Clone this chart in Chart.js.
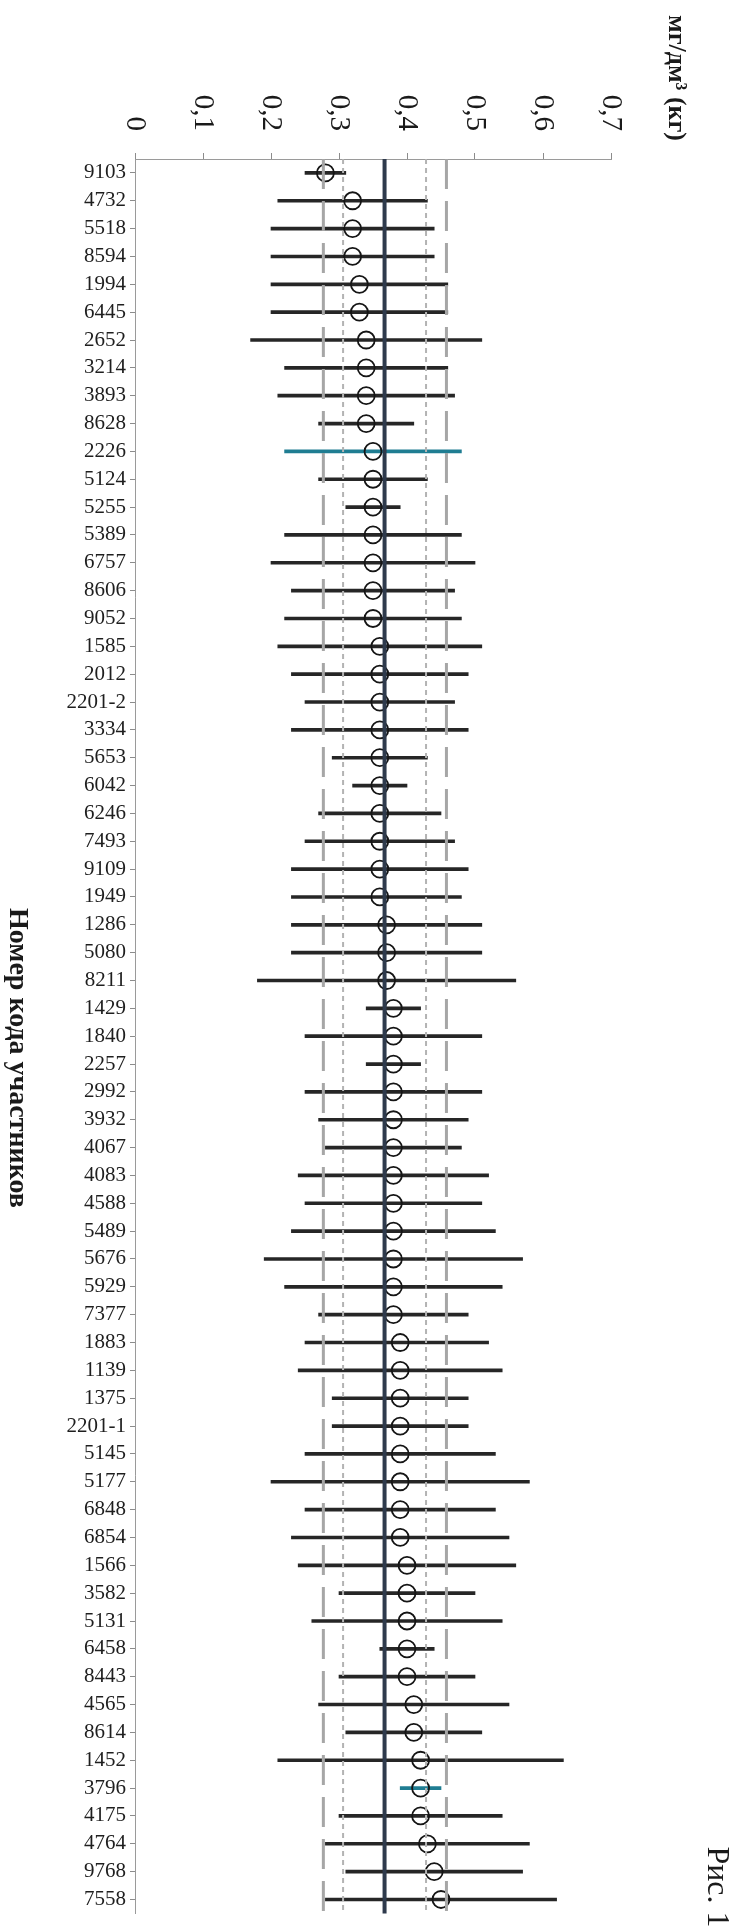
<!DOCTYPE html>
<html>
<head>
<meta charset="utf-8">
<script src="https://cdn.jsdelivr.net/npm/chart.js@4.4.1/dist/chart.umd.min.js"></script>
<style>
  html, body { margin: 0; padding: 0; background: #fff; }
  #wrap { width: 734px; height: 1930px; position: relative; }
</style>
</head>
<body>
<div id="wrap"><canvas id="chart"></canvas></div>
<script>
const participants = ['9103', '4732', '5518', '8594', '1994', '6445', '2652', '3214', '3893', '8628',
    '2226', '5124', '5255', '5389', '6757', '8606', '9052', '1585', '2012', '2201-2',
    '3334', '5653', '6042', '6246', '7493', '9109', '1949', '1286', '5080', '8211',
    '1429', '1840', '2257', '2992', '3932', '4067', '4083', '4588', '5489', '5676',
    '5929', '7377', '1883', '1139', '1375', '2201-1', '5145', '5177', '6848', '6854',
    '1566', '3582', '5131', '6458', '8443', '4565', '8614', '1452', '3796', '4175',
    '4764', '9768', '7558'];

const results = [0.28, 0.32, 0.32, 0.32, 0.33, 0.33, 0.34, 0.34, 0.34, 0.34,
    0.35, 0.35, 0.35, 0.35, 0.35, 0.35, 0.35, 0.36, 0.36, 0.36,
    0.36, 0.36, 0.36, 0.36, 0.36, 0.36, 0.36, 0.37, 0.37, 0.37,
    0.38, 0.38, 0.38, 0.38, 0.38, 0.38, 0.38, 0.38, 0.38, 0.38,
    0.38, 0.38, 0.39, 0.39, 0.39, 0.39, 0.39, 0.39, 0.39, 0.39,
    0.40, 0.40, 0.40, 0.40, 0.40, 0.41, 0.41, 0.42, 0.42, 0.42,
    0.43, 0.44, 0.45];

const lowerBounds = [0.25, 0.21, 0.20, 0.20, 0.20, 0.20, 0.17, 0.22, 0.21, 0.27,
    0.22, 0.27, 0.31, 0.22, 0.20, 0.23, 0.22, 0.21, 0.23, 0.25,
    0.23, 0.29, 0.32, 0.27, 0.25, 0.23, 0.23, 0.23, 0.23, 0.18,
    0.34, 0.25, 0.34, 0.25, 0.27, 0.28, 0.24, 0.25, 0.23, 0.19,
    0.22, 0.27, 0.25, 0.24, 0.29, 0.29, 0.25, 0.20, 0.25, 0.23,
    0.24, 0.30, 0.26, 0.36, 0.30, 0.27, 0.31, 0.21, 0.39, 0.30,
    0.28, 0.31, 0.28];

const upperBounds = [0.31, 0.43, 0.44, 0.44, 0.46, 0.46, 0.51, 0.46, 0.47, 0.41,
    0.48, 0.43, 0.39, 0.48, 0.50, 0.47, 0.48, 0.51, 0.49, 0.47,
    0.49, 0.43, 0.40, 0.45, 0.47, 0.49, 0.48, 0.51, 0.51, 0.56,
    0.42, 0.51, 0.42, 0.51, 0.49, 0.48, 0.52, 0.51, 0.53, 0.57,
    0.54, 0.49, 0.52, 0.54, 0.49, 0.49, 0.53, 0.58, 0.53, 0.55,
    0.56, 0.50, 0.54, 0.44, 0.50, 0.55, 0.51, 0.63, 0.45, 0.54,
    0.58, 0.57, 0.62];

const assignedValue = 0.367;
const innerLimits = [0.306, 0.428];
const outerLimits = [0.277, 0.458];
const xTickLabels = ['0', '0,1', '0,2', '0,3', '0,4', '0,5', '0,6', '0,7'];
const unitTitle = 'мг/дм³ (кг)';
const participantTitle = 'Номер кода участников';
const caption = 'Рис. 1';
const tintedBars = ['2226', '3796'];

const serif = "'Liberation Serif', 'Times New Roman', serif";

const refLines = {
    id: 'refLines',
    afterDatasetsDraw(chart) {
        const { ctx, chartArea, scales } = chart;
        const vline = (v, color, width, dash) => {
            const px = scales.x.getPixelForValue(v);
            ctx.save();
            ctx.strokeStyle = color;
            ctx.lineWidth = width;
            ctx.setLineDash(dash);
            ctx.beginPath();
            ctx.moveTo(px, chartArea.top);
            ctx.lineTo(px, chartArea.bottom);
            ctx.stroke();
            ctx.restore();
        };
        outerLimits.forEach(v => vline(v, '#a6a6a6', 3, [30, 12]));
        innerLimits.forEach(v => vline(v, '#b3b3b3', 2, [5, 4]));
        vline(assignedValue, '#2e3a4c', 4, []);
    }
};

// the scan is turned on its side, so the horizontal texts read top to bottom
const sideTexts = {
    id: 'sideTexts',
    afterDraw(chart) {
        const { ctx, scales } = chart;
        const rotated = (text, x, y, font, align) => {
            ctx.save();
            ctx.translate(x, y);
            ctx.rotate(Math.PI / 2);
            ctx.font = font;
            ctx.fillStyle = '#1a1a1a';
            ctx.textAlign = align;
            ctx.textBaseline = 'middle';
            ctx.fillText(text, 0, 0);
            ctx.restore();
        };
        scales.x.ticks.forEach((t, i) => {
            rotated(xTickLabels[i], scales.x.getPixelForValue(t.value), 131, '29px ' + serif, 'right');
        });
        rotated(unitTitle, 676, 78, 'bold 26px ' + serif, 'center');
        rotated(participantTitle, 17, 1058, 'bold 28px ' + serif, 'center');
        rotated(caption, 716, 1887, '32px ' + serif, 'center');
    }
};

new Chart(document.getElementById('chart'), {
    data: {
        labels: participants,
        datasets: [
            {
                type: 'bar',
                data: participants.map((p, i) => [lowerBounds[i], upperBounds[i]]),
                backgroundColor: ctx => tintedBars.includes(participants[ctx.dataIndex]) ? '#1f7d92' : '#262626',
                barThickness: 3,
                order: 2,
            },
            {
                type: 'line',
                data: results,
                showLine: false,
                pointStyle: 'circle',
                pointRadius: 8.5,
                pointBorderWidth: 1.8,
                pointBorderColor: '#151515',
                pointBackgroundColor: 'rgba(0,0,0,0)',
                order: 1,
            },
        ],
    },
    options: {
        indexAxis: 'y',
        responsive: true,
        maintainAspectRatio: false,
        animation: false,
        layout: {
            padding: { top: 153, right: 123, bottom: 8, left: 0 },
        },
        plugins: {
            legend: { display: false },
            tooltip: { enabled: false },
        },
        scales: {
            x: {
                type: 'linear',
                position: 'top',
                min: 0,
                max: 0.7,
                ticks: { stepSize: 0.1, display: false },
                grid: { drawOnChartArea: false, tickLength: 6, color: '#8c8c8c' },
                border: { color: '#9a9a9a', dash: [2, 2] },
                afterFit: scale => { scale.height = 6; },
            },
            y: {
                type: 'category',
                offset: true,
                ticks: {
                    autoSkip: false,
                    padding: 4,
                    color: '#1e1e1e',
                    font: { family: serif, size: 21 },
                },
                grid: { drawOnChartArea: false, offset: false, tickLength: 5, color: '#8c8c8c' },
                border: { color: '#9a9a9a', dash: [2, 2] },
                afterFit: scale => { scale.width = 135; },
            },
        },
    },
    plugins: [refLines, sideTexts],
});
</script>
</body>
</html>
